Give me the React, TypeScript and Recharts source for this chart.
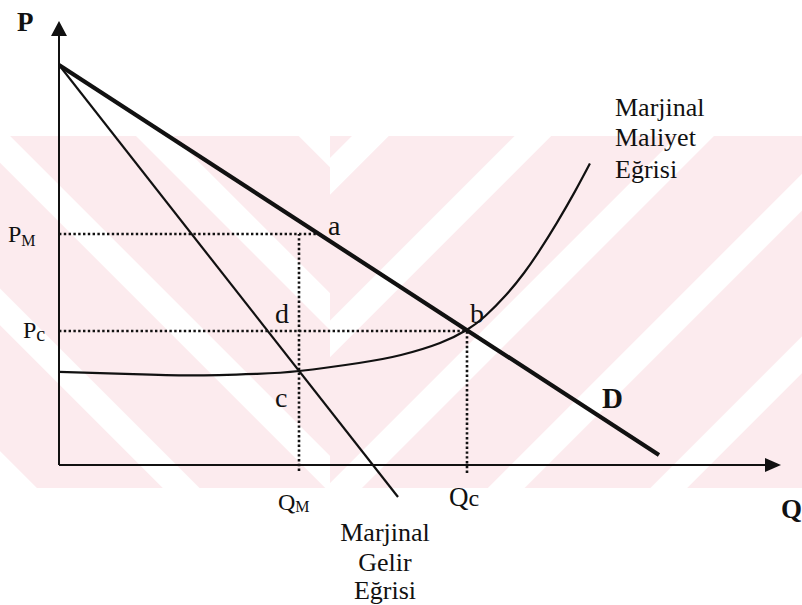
import React from 'react'
import { ComposedChart, Line, XAxis, YAxis, ReferenceLine, ReferenceDot } from 'recharts'

// monopoly vs competition diagram (Q on x, P on y)
const demandQ = [0, 10]
const demandP = [10, 0.25]
const mrQ = [0, 5.65]
const mrP = [10, -0.8]
const mcQ = [0, 1.1, 2.2, 3.3, 4, 5, 5.7, 6.35, 6.8, 7.1, 7.45, 7.75, 8, 8.3, 8.6, 8.85]
const mcP = [2.33, 2.28, 2.24, 2.28, 2.35, 2.55, 2.75, 3.05, 3.38, 3.72, 4.25, 4.8, 5.34, 6.06, 6.84, 7.54]

const QM = 4
const QC = 6.8
const PM = 5.775
const PC = 3.35
const QA = 4.333
const MC_AT_QM = 2.35

const SERIF = 'Liberation Serif, DejaVu Serif, serif'
const INK = '#111'
const PINK = '#fcebee'

const toRows = (qs: number[], ps: number[]) => qs.map((q, i) => ({ q, p: ps[i] }))
const demand = toRows(demandQ, demandP)
const mr = toRows(mrQ, mrP)
const mc = toRows(mcQ, mcP)

// text drawn relative to a data point
const textAt = (lines: React.ReactNode[], dx: number, dy: number[], opts: any = {}) => (p: any) => (
  <g>
    {lines.map((l, i) => (
      <text
        key={i}
        x={p.cx + dx}
        y={p.cy + dy[i]}
        style={{ fontFamily: SERIF }}
        fontSize={opts.size || 26}
        fontWeight={opts.weight || 'normal'}
        textAnchor={opts.anchor || 'start'}
        fill={INK}
      >
        {l}
      </text>
    ))}
  </g>
)

const sub = (main: string, s: string, subSize: number, subDy: number) => [
  <tspan key="m">{main}</tspan>,
  <tspan key="s" fontSize={subSize} dy={subDy}>{s}</tspan>,
]

const arrowUp = (p: any) => (
  <polygon points={`${p.cx},${p.cy + 2} ${p.cx - 8},${p.cy + 17} ${p.cx + 8},${p.cy + 17}`} fill={INK} />
)
const arrowRight = (p: any) => (
  <polygon points={`${p.cx + 2},${p.cy} ${p.cx - 14},${p.cy - 7} ${p.cx - 14},${p.cy + 7}`} fill={INK} />
)

const dotted = { stroke: INK, strokeWidth: 2.6, strokeDasharray: '2.4 2.4' }

export default function App() {
  return (
    <div style={{ position: 'absolute', left: 0, top: 0, width: 802, height: 605, background: '#fff' }}>
      {/* faint watermark behind the figure */}
      <svg width={802} height={605} style={{ position: 'absolute', left: 0, top: 0 }}>
        <defs>
          <pattern id="wmL" width={115} height={115} patternUnits="userSpaceOnUse" patternTransform="rotate(-45)">
            <rect width={115} height={115} fill={PINK} />
            <rect width={26} height={115} fill="#fff" />
          </pattern>
          <pattern id="wmR" width={115} height={115} patternUnits="userSpaceOnUse" patternTransform="rotate(45)">
            <rect width={115} height={115} fill={PINK} />
            <rect width={26} height={115} fill="#fff" />
          </pattern>
        </defs>
        <rect x={0} y={136} width={330} height={352} fill="url(#wmL)" />
        <rect x={330} y={136} width={472} height={352} fill="url(#wmR)" />
      </svg>
      <div style={{ position: 'absolute', left: 0, top: 0 }}>
        <ComposedChart width={802} height={605} margin={{ top: 17, right: 23, bottom: 0, left: 59 }}>
          <XAxis type="number" dataKey="q" domain={[0, 12]} hide allowDataOverflow />
          <YAxis type="number" domain={[-3.5, 11.2]} hide width={0} allowDataOverflow />

          {/* axes */}
          <ReferenceLine segment={[{ x: 0, y: 0 }, { x: 0, y: 10.9 }]} stroke={INK} strokeWidth={2} ifOverflow="visible" />
          <ReferenceLine segment={[{ x: 0, y: 0 }, { x: 11.8, y: 0 }]} stroke={INK} strokeWidth={2} ifOverflow="visible" />
          <ReferenceDot x={0} y={11.15} r={0} shape={arrowUp} ifOverflow="visible" />
          <ReferenceDot x={12} y={0} r={0} shape={arrowRight} ifOverflow="visible" />

          {/* dotted guides */}
          <ReferenceLine segment={[{ x: 0, y: PM }, { x: QA, y: PM }]} {...dotted} ifOverflow="visible" />
          <ReferenceLine segment={[{ x: QM, y: -0.15 }, { x: QM, y: PM }]} {...dotted} ifOverflow="visible" />
          <ReferenceLine segment={[{ x: 0, y: PC }, { x: QC, y: PC }]} {...dotted} ifOverflow="visible" />
          <ReferenceLine segment={[{ x: QC, y: -0.2 }, { x: QC, y: PC }]} {...dotted} ifOverflow="visible" />

          <Line data={mc} dataKey="p" type="natural" stroke={INK} strokeWidth={2.2} dot={false} isAnimationActive={false} />
          <Line data={mr} dataKey="p" type="linear" stroke={INK} strokeWidth={2.2} dot={false} isAnimationActive={false} />
          <Line data={demand} dataKey="p" type="linear" stroke={INK} strokeWidth={4.2} dot={false} isAnimationActive={false} />

          {/* axis titles */}
          <ReferenceDot x={0} y={11.2} r={0} ifOverflow="visible" shape={textAt(['P'], -42, [14], { weight: 'bold', size: 27 })} />
          <ReferenceDot x={12} y={0} r={0} ifOverflow="visible" shape={textAt(['Q'], 2, [53], { weight: 'bold', size: 27 })} />

          {/* price / quantity marks */}
          <ReferenceDot x={0} y={PM} r={0} ifOverflow="visible" shape={textAt([sub('P', 'M', 16, 4)], -51, [8], { size: 24 })} />
          <ReferenceDot x={0} y={PC} r={0} ifOverflow="visible" shape={textAt([sub('P', 'c', 20, 3)], -36, [7], { size: 24 })} />
          <ReferenceDot x={QM} y={0} r={0} ifOverflow="visible" shape={textAt([sub('Q', 'M', 16, 2)], -21, [45], { size: 24 })} />
          <ReferenceDot x={QC} y={0} r={0} ifOverflow="visible" shape={textAt([sub('Q', 'c', 24, 0)], -18, [41], { size: 27 })} />

          {/* point letters */}
          <ReferenceDot x={QA} y={PM} r={0} ifOverflow="visible" shape={textAt(['a'], 9, [1], { size: 28 })} />
          <ReferenceDot x={QC} y={PC} r={0} ifOverflow="visible" shape={textAt(['b'], 3, [-8], { size: 28 })} />
          <ReferenceDot x={QM} y={PC} r={0} ifOverflow="visible" shape={textAt(['d'], -24, [-8], { size: 28 })} />
          <ReferenceDot x={QM} y={MC_AT_QM} r={0} ifOverflow="visible" shape={textAt(['c'], -24, [36], { size: 28 })} />
          <ReferenceDot x={9.05} y={1.18} r={0} ifOverflow="visible" shape={textAt(['D'], 0, [-10], { weight: 'bold', size: 29 })} />

          {/* curve names */}
          <ReferenceDot
            x={mcQ[mcQ.length - 1]}
            y={mcP[mcP.length - 1]}
            r={0}
            ifOverflow="visible"
            shape={textAt(['Marjinal', 'Maliyet', 'Eğrisi'], 25, [-47, -17, 15], { size: 26 })}
          />
          <ReferenceDot
            x={mrQ[1]}
            y={mrP[1]}
            r={0}
            ifOverflow="visible"
            shape={textAt(['Marjinal', 'Gelir', 'Eğrisi'], -13, [44, 74, 102], { size: 26, anchor: 'middle' })}
          />
        </ComposedChart>
      </div>
    </div>
  )
}
